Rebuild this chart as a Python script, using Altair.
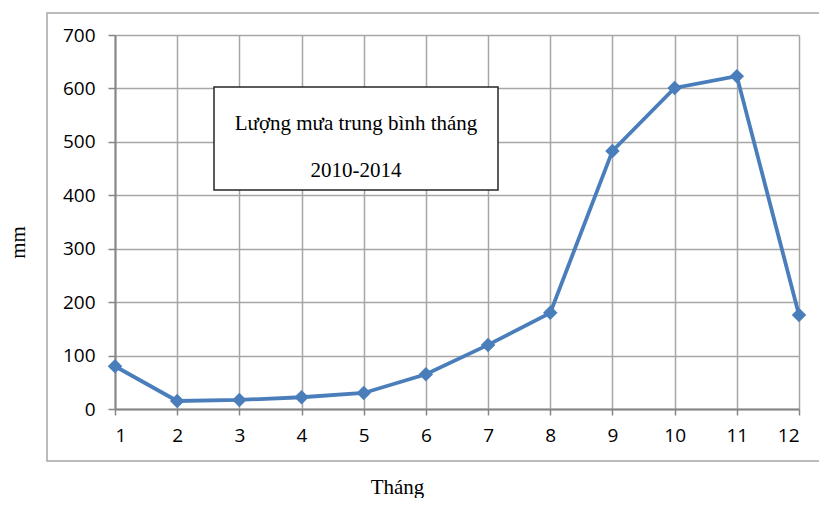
import altair as alt
import pandas as pd

months = [1, 2, 3, 4, 5, 6, 7, 8, 9, 10, 11, 12]
rain_mm = [80, 15, 17, 22, 30, 65, 120, 180, 483, 601, 623, 176]
y_ticks = [0, 100, 200, 300, 400, 500, 600, 700]
note_lines = ["Lượng mưa trung bình tháng", "2010-2014"]

df = pd.DataFrame({"month": months, "rain": rain_mm})
one = pd.DataFrame({"k": [0]})

W, H = 684, 374
BLUE = "#4a7ebb"
SERIF = "Liberation Serif"
SANS = "Open Sans"

x_enc = alt.X(
    "month:Q",
    scale=alt.Scale(domain=[1, 12], nice=False, zero=False),
    axis=alt.Axis(
        values=months, format="d", grid=True, gridColor="#a6a6a6", gridWidth=1.5,
        domainColor="#868686", domainWidth=2, tickColor="#868686", tickWidth=1.5,
        tickSize=6, labelFont=SANS, labelFontSize=19, labelColor="#000000",
        labelPadding=11, title="Tháng", titleFont=SERIF, titleFontSize=21,
        titleFontWeight="normal", titleColor="#000000", titleX=282, titleY=84,
        titleBaseline="alphabetic", titleAlign="center",
    ),
)
y_enc = alt.Y(
    "rain:Q",
    scale=alt.Scale(domain=[0, 700], nice=False),
    axis=alt.Axis(
        values=y_ticks, grid=True, gridColor="#a6a6a6", gridWidth=1.5,
        domainColor="#868686", domainWidth=2, tickColor="#868686", tickWidth=1.5,
        tickSize=7, labelFont=SANS, labelFontSize=19, labelColor="#000000",
        labelPadding=13, title="mm", titleFont=SERIF, titleFontSize=21,
        titleFontWeight="normal", titleColor="#000000", titleAngle=270,
        titleX=-91, titleY=207, titleBaseline="alphabetic", titleAlign="center",
    ),
)

border = alt.Chart(one).mark_rect(
    fill="#ffffff", fillOpacity=0, stroke="#a6a6a6", strokeWidth=1.5
).encode(x=alt.value(-68), x2=alt.value(730), y=alt.value(-22), y2=alt.value(426))

line = alt.Chart(df).mark_line(color=BLUE, strokeWidth=3.8).encode(x=x_enc, y=y_enc)
pts = alt.Chart(df).mark_point(
    shape="diamond", filled=True, color=BLUE, size=210, opacity=1
).encode(x="month:Q", y="rain:Q")

box = alt.Chart(one).mark_rect(
    fill="#ffffff", stroke="#262626", strokeWidth=1.5
).encode(x=alt.value(99), x2=alt.value(383), y=alt.value(52), y2=alt.value(155))

note_df = pd.DataFrame({"t": note_lines, "yy": [95, 142]})
note = alt.Chart(note_df).mark_text(
    font=SERIF, fontSize=21, color="#000000", align="center", baseline="alphabetic"
).encode(text="t:N", x=alt.value(241), y=alt.Y("yy:Q", scale=None))

chart = alt.layer(border, line, pts, box, note).properties(
    width=W, height=H,
    autosize=alt.AutoSizeParams(type="none"),
    padding={"left": 107, "top": 27, "right": 20, "bottom": 89},
).configure_view(stroke=None)

chart.save("out.html", embed_options={"renderer": "svg", "actions": False})
